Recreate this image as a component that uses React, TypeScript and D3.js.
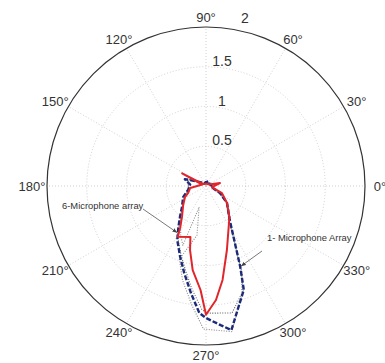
import { useEffect, useRef } from 'react';
import * as d3 from 'd3';

// angles in degrees (counter-clockwise from 0° at the right), radius in plot units
const sixMicAngles = [0, 12, 30, 60, 90, 120, 147, 152, 158, 187, 201, 208, 220, 232, 238, 241, 253, 256, 261, 267, 270, 275, 280, 288, 307, 321, 336, 348];
const sixMicValues = [0.1, 0.18, 0.04, 0.03, 0.03, 0.03, 0.05, 0.34, 0.05, 0.2, 0.24, 0.3, 0.375, 0.49, 0.61, 0.73, 0.67, 0.83, 1.07, 1.31, 1.62, 1.44, 1.2, 0.85, 0.49, 0.34, 0.22, 0.08];

const oneMicAngles = [0, 30, 60, 90, 120, 150, 162, 175, 192, 206, 221, 230, 236, 242, 250, 256, 262, 267, 270, 276, 280, 290, 293, 305, 321, 333, 344];
const oneMicValues = [0.08, 0.05, 0.07, 0.05, 0.04, 0.1, 0.28, 0.2, 0.23, 0.32, 0.4, 0.51, 0.62, 0.77, 0.95, 1.13, 1.36, 1.6, 1.66, 1.76, 1.84, 1.39, 1.1, 0.52, 0.34, 0.2, 0.09];

const darkDotAngles = [0, 60, 120, 160, 190, 205, 220, 230, 240, 250, 256, 262, 268, 270.4, 281.6, 288.6, 292.5, 305, 321, 333, 345];
const darkDotValues = [0.06, 0.05, 0.05, 0.24, 0.22, 0.3, 0.38, 0.5, 0.72, 0.92, 1.08, 1.3, 1.55, 1.6, 1.63, 1.42, 1.18, 0.5, 0.33, 0.19, 0.08];

const lightDotAngles = [0, 60, 120, 160, 190, 205, 220, 230, 243, 248.7, 252, 259.6, 250, 256, 263, 269, 280, 289.6, 293, 305, 321, 333, 345];
const lightDotValues = [0.06, 0.05, 0.05, 0.25, 0.22, 0.3, 0.38, 0.5, 0.7, 0.8, 0.28, 0.63, 0.98, 1.22, 1.5, 1.8, 1.86, 1.4, 1.1, 0.5, 0.33, 0.19, 0.08];

const ringTicks = [0.5, 1, 1.5, 2];
const ringLabels = ['0.5', '1', '1.5', '2'];
const spokeAngles = [0, 30, 60, 90, 120, 150, 180, 210, 240, 270, 300, 330];

const W = 385;
const H = 363;
const cx = 206;
const cy = 186;
const R = 159;

const App = () => {
  const svgRef = useRef<SVGSVGElement>(null);

  useEffect(() => {
    if (!svgRef.current) return;
    const svg = d3.select(svgRef.current);
    svg.selectAll('*').remove();

    const r = d3.scaleLinear().domain([0, 2]).range([0, R]);
    const rad = (deg: number) => (deg * Math.PI) / 180;
    const px = (a: number, v: number) => cx + r(v) * Math.cos(rad(a));
    const py = (a: number, v: number) => cy - r(v) * Math.sin(rad(a));

    const g = svg.append('g').attr('transform', `translate(${cx},${cy})`);

    // dotted grid
    g.selectAll('circle.grid')
      .data(ringTicks.slice(0, -1))
      .enter()
      .append('circle')
      .attr('r', d => r(d))
      .attr('fill', 'none')
      .attr('stroke', '#c4c4c4')
      .attr('stroke-width', 0.8)
      .attr('stroke-dasharray', '1,2');

    g.selectAll('line.spoke')
      .data(spokeAngles)
      .enter()
      .append('line')
      .attr('x1', 0)
      .attr('y1', 0)
      .attr('x2', d => r(2) * Math.cos(rad(d)))
      .attr('y2', d => -r(2) * Math.sin(rad(d)))
      .attr('stroke', '#c4c4c4')
      .attr('stroke-width', 0.8)
      .attr('stroke-dasharray', '1,2');

    g.append('circle')
      .attr('r', r(2))
      .attr('fill', 'none')
      .attr('stroke', '#333')
      .attr('stroke-width', 1.2);

    const line = d3.lineRadial<[number, number]>()
      .angle(d => rad(90 - d[0]))
      .radius(d => r(d[1]))
      .curve(d3.curveLinearClosed);

    const series = [
      { a: lightDotAngles, v: lightDotValues, color: '#8c8c8c', w: 1.1, dash: '1,1.5' },
      { a: darkDotAngles, v: darkDotValues, color: '#5e5e5e', w: 1.1, dash: '1,1.5' },
      { a: oneMicAngles, v: oneMicValues, color: '#1c2a7a', w: 2.4, dash: '5,2' },
      { a: sixMicAngles, v: sixMicValues, color: '#e0262b', w: 2, dash: null },
    ];

    series.forEach(s => {
      const pts: [number, number][] = s.a.map((a, i) => [a, s.v[i]]);
      g.append('path')
        .attr('d', line(pts))
        .attr('fill', 'none')
        .attr('stroke', s.color)
        .attr('stroke-width', s.w)
        .attr('stroke-linejoin', 'round')
        .attr('stroke-dasharray', s.dash);
    });

    // angle labels
    svg.selectAll('text.ang')
      .data(spokeAngles)
      .enter()
      .append('text')
      .attr('x', d => cx + (R + 15) * Math.cos(rad(d)))
      .attr('y', d => cy - (R + 10) * Math.sin(rad(d)))
      .attr('text-anchor', 'middle')
      .attr('dominant-baseline', 'central')
      .style('font-size', '13px')
      .style('fill', '#333')
      .text(d => `${d}°`);

    // radial tick labels
    svg.selectAll('text.rt')
      .data(ringTicks)
      .enter()
      .append('text')
      .attr('x', (d, i) => cx + (i === ringTicks.length - 1 ? 39 : 16))
      .attr('y', (d, i) => cy - r(d) - (i === ringTicks.length - 1 ? 9 : 6))
      .attr('text-anchor', 'middle')
      .attr('dominant-baseline', 'central')
      .style('font-size', '14px')
      .style('fill', '#333')
      .text((d, i) => ringLabels[i]);

    // annotations
    const defs = svg.append('defs');
    defs.append('marker')
      .attr('id', 'arr')
      .attr('viewBox', '0 0 10 10')
      .attr('refX', 10)
      .attr('refY', 5)
      .attr('markerWidth', 6)
      .attr('markerHeight', 6)
      .attr('orient', 'auto')
      .append('path')
      .attr('d', 'M0,1 L10,5 L0,9 Z')
      .attr('fill', '#444');

    const notes = [
      { text: '6-Microphone array', a: 238.3, v: 0.69, tx: 62, ty: 209, lx: 143, ly: 209 },
      { text: '1- Microphone Array', a: 293.6, v: 1.1, tx: 267, ty: 241, lx: 262, ly: 251 },
    ];
    notes.forEach(n => {
      svg.append('line')
        .attr('x1', n.lx)
        .attr('y1', n.ly)
        .attr('x2', px(n.a, n.v))
        .attr('y2', py(n.a, n.v))
        .attr('stroke', '#555')
        .attr('stroke-width', 0.8)
        .attr('marker-end', 'url(#arr)');
      svg.append('text')
        .attr('x', n.tx)
        .attr('y', n.ty)
        .style('font-size', '9.4px')
        .style('fill', '#333')
        .text(n.text);
    });
  }, []);

  return (
    <div style={{ position: 'absolute', left: 0, top: 0, background: '#fff' }}>
      <svg ref={svgRef} width={W} height={H} style={{ fontFamily: '"Liberation Sans", Arial, sans-serif', display: 'block' }} />
    </div>
  );
};

export default App;
